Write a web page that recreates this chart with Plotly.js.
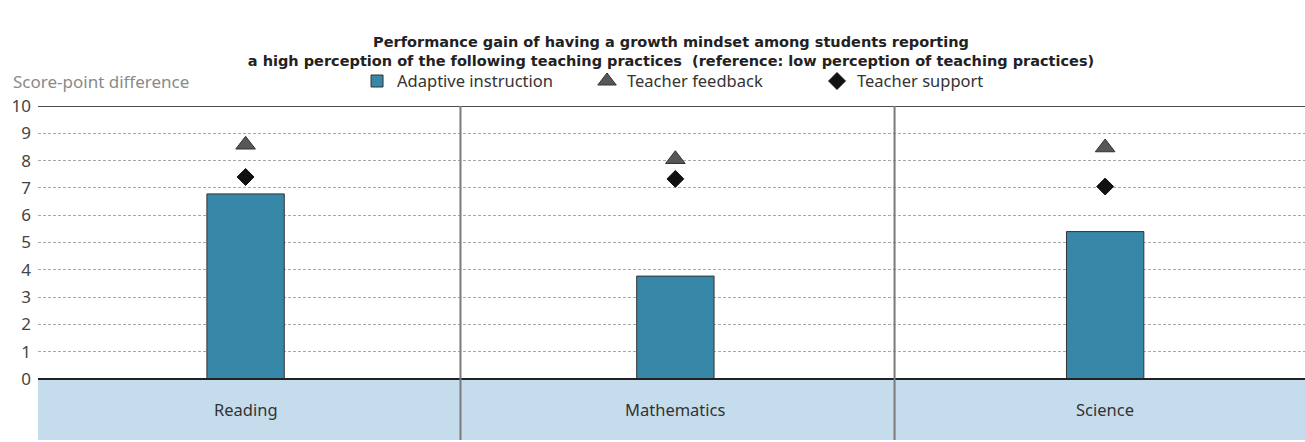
<!DOCTYPE html>
<html>
<head>
<meta charset="utf-8">
<script src="https://cdn.plot.ly/plotly-3.0.1.min.js"></script>
<style>html,body{margin:0;padding:0;background:#fff;}#chart{width:1305px;height:442px;}</style>
</head>
<body>
<div id="chart"></div>
<script>
const categories = ["Reading", "Mathematics", "Science"];
const adaptiveInstruction = [6.78, 3.77, 5.40];
const teacherFeedback = [8.58, 8.05, 8.48];
const teacherSupport = [7.40, 7.33, 7.05];
const yTicks = [0, 1, 2, 3, 4, 5, 6, 7, 8, 9, 10];
const titleLines = [
  "Performance gain of having a growth mindset among students reporting",
  "a high perception of the following teaching practices  (reference: low perception of teaching practices)"
];

const FONT = "Noto Sans, Open Sans, sans-serif";

const traces = [
  {
    type: "bar", name: "Adaptive instruction", x: categories, y: adaptiveInstruction,
    width: 0.18,
    marker: {color: "#3787a8", line: {color: "#333", width: 1}}
  },
  {
    type: "scatter", mode: "markers", name: "Teacher feedback", x: categories, y: teacherFeedback,
    marker: {symbol: "triangle-up", size: 17, color: "#575757", line: {color: "#333", width: 1}}
  },
  {
    type: "scatter", mode: "markers", name: "Teacher support", x: categories, y: teacherSupport,
    marker: {symbol: "diamond", size: 13, color: "#111", line: {color: "#111", width: 1}}
  }
];

const shapes = [
  {type: "rect", xref: "paper", yref: "y", x0: 0, x1: 1, y0: -2.234, y1: 0, fillcolor: "#c5dcec", line: {width: 0}, layer: "below"},
  {type: "line", xref: "paper", yref: "y", x0: 0, x1: 1, y0: 10, y1: 10, line: {color: "#111", width: 1.5}},
  {type: "line", xref: "paper", yref: "y", x0: 0, x1: 1, y0: 0, y1: 0, line: {color: "#222", width: 2}},
  {type: "line", xref: "x", yref: "y", x0: 0.5, x1: 0.5, y0: -2.234, y1: 10, line: {color: "#7a7a7a", width: 2}},
  {type: "line", xref: "x", yref: "y", x0: 1.51, x1: 1.51, y0: -2.234, y1: 10, line: {color: "#7a7a7a", width: 2}}
];

const annotations = categories.map(c => ({
  x: c, y: -1.13, xref: "x", yref: "y", text: c, showarrow: false,
  font: {family: FONT, size: 16.5, color: "#333"}
}));
annotations.push({
  xref: "paper", yref: "paper", x: -0.021, y: 1.072, xanchor: "left", yanchor: "middle",
  text: "Score-point difference", showarrow: false,
  font: {family: FONT, size: 17, color: "#8a8a8a"}
});

const layout = {
  width: 1305, height: 442,
  margin: {l: 38, r: 0, t: 106, b: 2, pad: 0},
  paper_bgcolor: "#fff", plot_bgcolor: "#fff",
  title: {
    text: "<b>" + titleLines.join("<br>") + "</b>",
    xref: "container", yref: "container", x: 671 / 1305, xanchor: "center",
    y: 0.893, yanchor: "middle",
    font: {family: "DejaVu Sans, sans-serif", size: 14.5, color: "#222"}
  },
  showlegend: true,
  legend: {
    orientation: "h", x: 0.2518, xanchor: "left", y: 1.074, yanchor: "middle",
    font: {family: FONT, size: 16.5, color: "#333"}, bgcolor: "rgba(0,0,0,0)",
    traceorder: "normal", entrywidth: 185, entrywidthmode: "pixels"
  },
  xaxis: {
    type: "category", range: [-0.483, 2.465], showticklabels: false, ticks: "",
    showgrid: false, zeroline: false, showline: false, fixedrange: true
  },
  yaxis: {
    range: [-2.234, 10], tickvals: yTicks, ticktext: yTicks.map(String),
    showgrid: true, gridcolor: "#a8a8a8", gridwidth: 1, griddash: "3px,2px",
    zeroline: false, showline: false, ticks: "", ticklabelstandoff: 6,
    tickfont: {family: FONT, size: 17, color: "#444"}, fixedrange: true
  },
  bargap: 0,
  shapes: shapes,
  annotations: annotations
};

Plotly.newPlot("chart", traces, layout, {displayModeBar: false, staticPlot: true});
</script>
</body>
</html>
